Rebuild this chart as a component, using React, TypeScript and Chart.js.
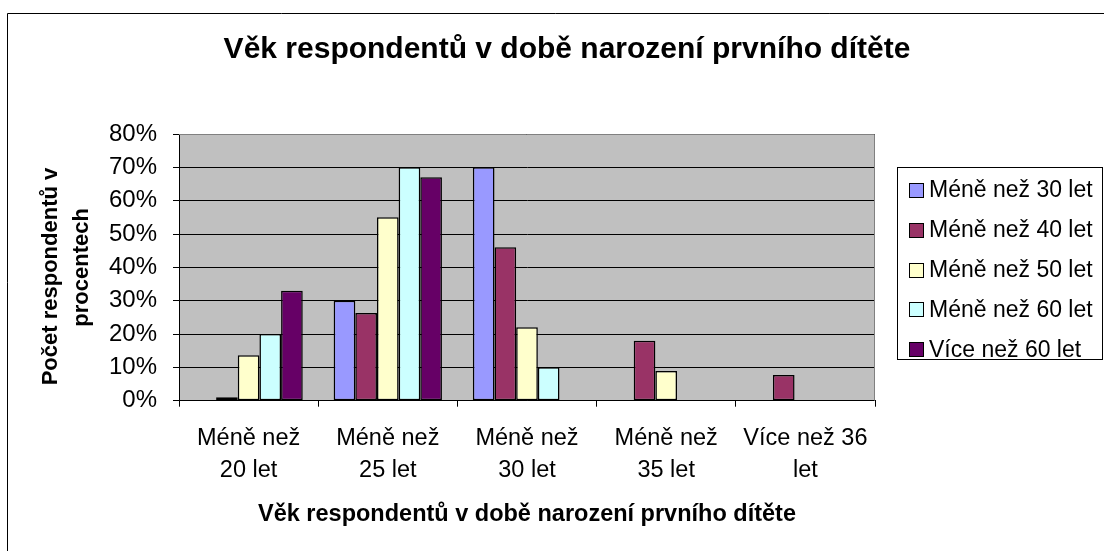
import React, { useEffect, useRef } from "react";
import { Chart, registerables } from "chart.js";

Chart.register(...registerables);

const categories: string[][] = [
  ["Méně než", "20 let"],
  ["Méně než", "25 let"],
  ["Méně než", "30 let"],
  ["Méně než", "35 let"],
  ["Více než 36", "let"],
];

const seriesNames = [
  "Méně než 30 let",
  "Méně než 40 let",
  "Méně než 50 let",
  "Méně než 60 let",
  "Více než 60 let",
];

const under30 = [0, 30, 70, 0, 0];
const under40 = [1, 26.3, 46, 18, 7.7];
const under50 = [13.6, 55, 22, 8.9, 0];
const under60 = [20, 70, 10, 0, 0];
const over60 = [33, 67, 0, 0, 0];

const seriesColors = ["#9999FF", "#993366", "#FFFFCC", "#CCFFFF", "#660066"];

const yTicks = [0, 10, 20, 30, 40, 50, 60, 70, 80];

const chartTitle = "Věk respondentů v době narození prvního dítěte";
const xTitle = "Věk respondentů v době narození prvního dítěte";
const yTitle = ["Počet respondentů v   ", "procentech"];

const FONT = "'Liberation Sans', Arial, sans-serif";
const PLOT_BG = "#C0C0C0";

const decor = {
  id: "decor",
  beforeDraw(chart: any) {
    const { ctx, chartArea: a } = chart;
    ctx.save();
    ctx.fillStyle = "#ffffff";
    ctx.fillRect(0, 0, chart.width, chart.height);
    ctx.fillStyle = PLOT_BG;
    ctx.fillRect(a.left, a.top, a.right - a.left, a.bottom - a.top);
    ctx.strokeStyle = "#000";
    ctx.lineWidth = 1;
    ctx.beginPath();
    ctx.moveTo(7.5, chart.height);
    ctx.lineTo(7.5, 13.5);
    ctx.lineTo(chart.width, 13.5);
    ctx.stroke();
    ctx.restore();
  },
  beforeDatasetsDraw(chart: any) {
    const { ctx, chartArea: a } = chart;
    ctx.save();
    ctx.strokeStyle = "#808080";
    ctx.lineWidth = 1;
    ctx.beginPath();
    ctx.moveTo(a.left, Math.round(a.top) + 0.5);
    ctx.lineTo(Math.round(a.right) - 0.5, Math.round(a.top) + 0.5);
    ctx.lineTo(Math.round(a.right) - 0.5, a.bottom);
    ctx.stroke();
    ctx.restore();
  },
  afterDraw(chart: any) {
    const { ctx } = chart;
    ctx.save();
    ctx.strokeStyle = "#000";
    ctx.lineWidth = 1;
    ctx.strokeRect(897.5, 167.5, 205, 192);
    ctx.font = `23px ${FONT}`;
    ctx.textBaseline = "middle";
    ctx.textAlign = "left";
    chart.data.datasets.forEach((ds: any, i: number) => {
      const cy = 190 + i * 39.8;
      ctx.fillStyle = ds.backgroundColor;
      ctx.fillRect(909, Math.round(cy - 7), 14, 14);
      ctx.strokeRect(909.5, Math.round(cy - 7) + 0.5, 14, 14);
      ctx.fillStyle = "#000";
      ctx.fillText(ds.label, 929, cy + 1);
    });
    ctx.restore();
  },
};

export default function App() {
  const ref = useRef<HTMLCanvasElement | null>(null);

  useEffect(() => {
    document.body.style.margin = "0";
    const series = [under30, under40, under50, under60, over60];
    const chart = new Chart(ref.current as HTMLCanvasElement, {
      type: "bar",
      data: {
        labels: categories,
        datasets: series.map((d, i) => ({
          label: seriesNames[i],
          data: d,
          backgroundColor: seriesColors[i],
          borderColor: "#000",
          borderWidth: 1.5,
          borderSkipped: false,
          categoryPercentage: 0.778,
          barPercentage: 1,
        })),
      },
      options: {
        responsive: false,
        animation: false,
        devicePixelRatio: 1,
        layout: { padding: { left: 30, right: 0, top: 10, bottom: 10 } },
        plugins: {
          legend: { display: false },
          tooltip: { enabled: false },
          title: {
            display: true,
            text: chartTitle,
            color: "#000",
            font: { family: FONT, size: 30, weight: "bold" },
            padding: { top: 22, bottom: 66 },
          },
        },
        scales: {
          x: {
            grid: {
              display: true,
              drawOnChartArea: false,
              color: "#000",
              tickLength: 6,
              offset: true,
            },
            border: { color: "#000", width: 1 },
            ticks: {
              color: "#000",
              font: { family: FONT, size: 23.5, lineHeight: 1.35 },
              padding: 16,
              maxRotation: 0,
              autoSkip: false,
            },
            title: {
              display: true,
              text: xTitle,
              color: "#000",
              font: { family: FONT, size: 23.5, weight: "bold" },
              padding: { top: 0, bottom: 12 },
            },
            afterFit: (s: any) => {
              s.height = 140.3;
            },
          },
          y: {
            min: 0,
            max: 80,
            afterBuildTicks: (s: any) => {
              s.ticks = yTicks.map((v) => ({ value: v }));
            },
            grid: { color: "#000", lineWidth: 1, tickLength: 6 },
            border: { color: "#000", width: 1 },
            ticks: {
              color: "#000",
              font: { family: FONT, size: 24 },
              padding: 16,
              callback: (v: any) => v + "%",
            },
            title: {
              display: true,
              text: yTitle,
              color: "#000",
              font: { family: FONT, size: 22, weight: "bold", lineHeight: 1.38 },
              padding: { top: 6, bottom: 0 },
            },
            afterFit: (s: any) => {
              s.width = 149;
            },
          },
          yR: {
            position: "right",
            display: true,
            grid: { display: false },
            border: { display: false },
            ticks: { display: false },
            afterFit: (s: any) => {
              s.width = 229;
            },
          },
        },
      },
      plugins: [decor],
    } as any);
    return () => chart.destroy();
  }, []);

  return (
    <div style={{ width: 1104, height: 551 }}>
      <canvas ref={ref} width={1104} height={551} style={{ display: "block" }} />
    </div>
  );
}
